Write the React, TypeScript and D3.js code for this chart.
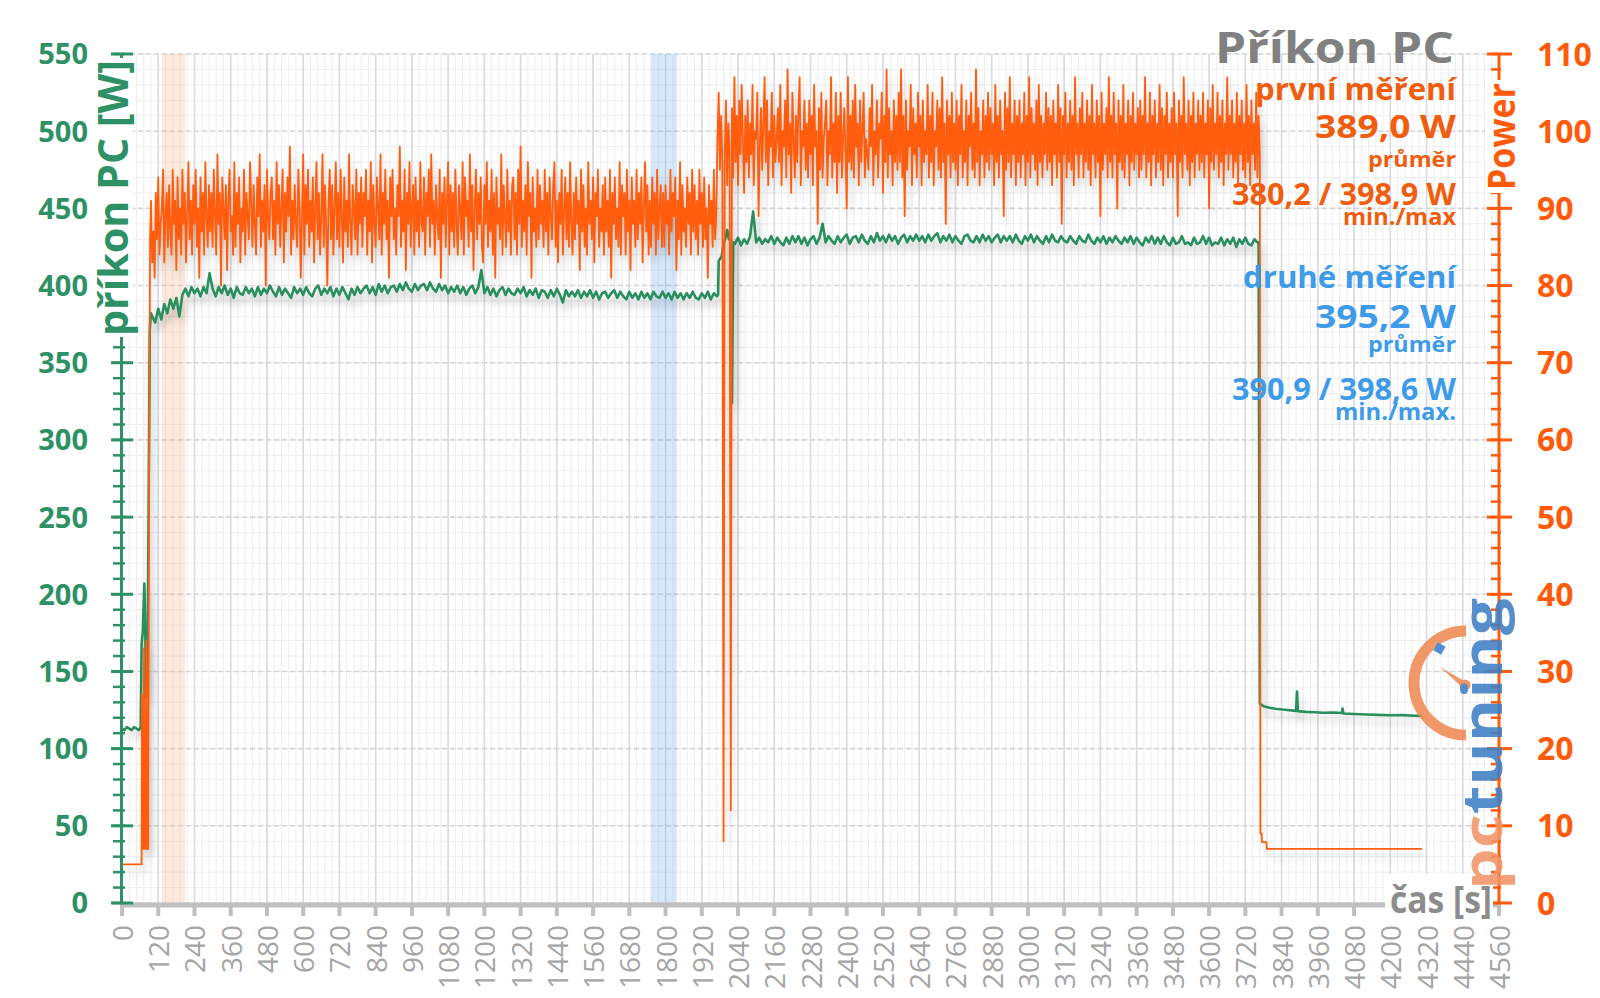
import React from 'react';
import * as d3 from 'd3';

// ---------- data ----------
const X_TICKS = d3.range(0, 4561, 120);
const LEFT_TICKS = [0, 50, 100, 150, 200, 250, 300, 350, 400, 450, 500, 550];
const RIGHT_TICKS = [0, 10, 20, 30, 40, 50, 60, 70, 80, 90, 100, 110];

const BAND_ORANGE: [number, number] = [132, 209];
const BAND_BLUE: [number, number] = [1752, 1838];

// orange series ("Power", right axis)
const ORANGE_START: [number, number][] = [[0,5],[65,5],[66,27],[68,7],[71,7],[73,33],[76,7],[79,7],[81,34],[84,7],[87,7],[90,60],[93,86]];
const ORANGE_STEP = 4;
const ORANGE_P1_T0 = 96;
const ORANGE_P1 = [
91,83,87,81,92,86,94,84,88,90,95,83,89,92,85,93,87,84,95,88,91,82,94,86,90,
84,95,88,92,83,89,96,86,91,84,93,88,95,85,90,81,94,87,92,84,96,89,85,93,87,
92,85,95,89,84,97,88,92,80,94,90,86,93,82,91,95,87,89,84,96,85,92,88,94,83,
90,87,95,84,92,89,86,96,91,85,93,88,84,94,89,97,85,91,87,93,80,95,89,86,92,
94,86,91,84,96,88,93,85,90,95,83,92,87,94,89,98,84,91,86,93,88,85,95,90,81,
89,97,84,93,88,95,85,91,87,94,83,90,96,86,92,84,89,97,85,93,88,80,91,95,86,
93,84,90,96,86,92,85,95,89,83,94,87,91,85,97,88,84,93,90,86,95,84,92,88,94,
85,92,89,95,84,91,87,96,83,93,88,85,94,90,86,97,84,92,88,95,86,91,81,94,89,
95,86,90,84,93,89,98,85,91,87,95,82,92,88,96,85,90,93,84,94,87,91,85,96,88,
87,94,84,92,89,95,85,97,88,91,84,93,89,86,95,81,92,88,94,85,91,96,84,93,87,
92,85,95,88,84,93,90,86,96,84,94,89,91,85,97,87,93,82,90,95,86,92,88,94,85,
83,93,88,96,85,91,87,95,84,92,81,94,88,90,86,97,84,93,89,85,95,87,91,84,93,
94,86,92,84,95,88,98,85,91,87,93,84,96,89,92,81,94,87,90,85,95,86,93,88,91,
85,95,87,92,84,94,89,86,93,96,85,91,83,92,88,95,84,90,94,86,92,85,96,88,84,
92,86,94,88,91,82,95,87,93,85,90,84,96,88,91,86,94,83,92,89,95,85,90,87,93,
84,94,87,91,85,95,81,92,88,94,86,90,85,96,84,93,89,92,84,95,87,91,82,94,88,
91,85,95,86,92,88,94,83,90,96,87,93,84,91,85,94,88,92,84,95,86,90,93,85,92,
85,93,88,91,84,95,87,92,89,94,82,91,86,96,84,93,87,90,85,94,88,92,84,95,87,
93,86,91,84,95,88,92,85,94,86,90,81,93,88,91,85,95,86,89
];
const ORANGE_P2_T0 = 1972;
const ORANGE_P2 = [
99,105,95,102,96,8,97,104,93,101,98,12,103,94,107,96,102,93,104,97,106,99,92,102,96,
104,94,101,97,106,93,100,99,105,89,98,103,95,101,107,96,104,93,100,98,105,94,102,96,99,
103,96,106,93,100,98,104,94,108,97,101,92,105,99,94,102,96,103,107,93,100,98,104,95,101,
94,104,97,102,93,106,98,100,88,103,95,105,94,99,101,104,93,100,97,107,94,101,96,105,92,
102,96,105,94,99,103,97,90,107,96,102,95,104,94,106,98,101,93,104,96,100,105,94,99,97,
95,103,98,106,93,100,97,104,94,101,99,105,92,102,96,108,94,103,97,100,93,104,96,102,95,
105,96,108,94,102,89,104,95,100,98,106,93,103,97,101,94,105,98,102,93,104,96,100,97,106,
94,102,96,105,93,100,98,104,95,103,94,107,96,101,88,104,97,102,94,105,96,101,95,104,93,
102,97,106,94,100,96,104,93,102,98,105,95,101,94,108,96,103,93,100,97,104,94,102,96,105,
95,103,97,101,93,106,96,102,94,104,97,100,89,105,95,103,96,107,94,101,97,104,93,102,96,
104,94,101,97,105,93,102,96,107,94,103,97,101,95,104,93,106,96,102,94,101,97,105,95,103,
96,102,93,104,97,101,94,106,96,103,88,102,97,105,94,101,96,104,95,102,93,107,97,101,94,
103,97,105,94,101,96,104,95,102,93,106,97,101,94,104,96,102,89,105,95,101,97,103,94,107,
96,102,94,105,97,101,90,104,96,102,95,106,94,101,97,104,93,102,96,105,95,101,97,103,94,
104,95,102,97,107,94,101,96,105,93,102,97,104,94,101,96,106,95,103,93,102,97,105,94,101,
96,103,94,105,97,101,89,104,96,102,94,107,97,101,95,104,93,102,96,105,94,101,97,104,95,
102,96,105,94,101,97,104,90,103,96,106,95,101,97,105,94,102,96,104,93,101,97,107,95,102,
97,104,94,101,96,105,93,102,97,104,95,101,94,106,96,102,93,104,97,101,95,105,94,102,97
];
const ORANGE_END: [number, number][] = [[3770,9],[3774,9],[3775,7.9],[3790,7.9],[3791,7],[4305,7]];

// green series (příkon PC [W], left axis)
const GREEN_START: [number, number][] = [[0,113],[8,112],[16,114],[24,113],[32,112],[40,114],[48,113],[56,112],[62,114],[65,168],[69,176],[74,207],[77,178],[80,133],[84,138],[88,250],[92,372],[96,382]];
const GREEN_STEP = 10;
const GREEN_P1_T0 = 100;
const GREEN_P1 = [
380,376,385,378,388,382,391,385,392,380,
394,398,393,399,395,398,393,399,395,408,
398,393,399,395,400,394,398,392,399,395,
394,399,395,398,393,399,394,398,395,400,
396,393,399,394,398,395,392,399,395,398,
394,399,395,393,398,400,394,398,395,399,
393,398,394,399,395,391,398,394,399,395,
398,400,395,399,394,401,396,400,395,399,
400,396,401,397,402,398,396,401,397,400,
401,397,402,398,396,401,397,400,395,399,
396,400,395,399,394,398,400,395,399,410,
395,399,394,398,393,397,399,394,398,395,
394,398,395,399,393,397,394,398,392,397,
396,392,397,393,398,394,389,397,393,396,
393,397,392,396,393,397,392,396,391,395,
396,392,395,397,392,396,393,391,396,392,
395,391,396,392,395,391,396,393,392,396,
392,395,391,396,392,395,391,395,392,396,
392,391,395,392,396,391,395,393
];
const GREEN_TRANS: [number, number][] = [[1974,394],[1976,416],[1986,419],[1992,427],[2000,432],[2004,436],[2010,430],[2016,429],[2020,324],[2024,428]];
const GREEN_P2_T0 = 2030;
const GREEN_P2 = [
427,431,426,430,427,432,448,428,431,427,430,428,432,427,431,428,426,431,427,432,
428,432,427,431,426,430,432,427,431,440,
428,432,429,427,432,428,431,433,427,431,
432,428,433,429,427,432,428,434,429,432,
428,433,429,432,427,431,433,428,432,429,
433,429,432,428,433,429,432,434,428,432,
429,433,428,432,429,427,432,433,429,428,
432,428,433,429,432,428,431,433,428,432,
429,432,428,433,429,427,432,429,433,428,
432,429,427,432,428,433,429,428,432,429,
428,432,429,427,432,429,428,433,429,427,
431,428,432,427,431,428,432,429,427,431,
428,432,427,431,428,426,431,428,432,427,
431,427,432,428,426,431,427,428,432,427,
428,426,431,427,428,432,427,431,426,428,
427,431,426,430,427,431,425,430,427,431,
427,426,430,428
];
const GREEN_END: [number, number][] = [[3764,428],[3768,129],[3780,127.5],[3800,126.5],[3820,125.8],[3850,125.2],[3880,124.6],[3888,124.4],[3891,137],[3894,124.3],[3920,123.8],[3950,123.6],[3980,123.2],[4010,123.4],[4040,123.1],[4042,126],[4045,122.8],[4080,122.4],[4120,122.1],[4160,121.9],[4200,121.6],[4240,121.7],[4280,121.3],[4305,121.2]];

// ---------- layout ----------
const X0 = 122, X1 = 1499, Y0 = 903, Y1 = 54;
const x = d3.scaleLinear().domain([0, 4560]).range([X0, X1]);
const yL = d3.scaleLinear().domain([0, 550]).range([Y0, Y1]);
const yR = d3.scaleLinear().domain([0, 110]).range([Y0, Y1]);

const C_ORANGE = '#ff5b0b';
const C_ORANGE_T = '#f05d0e';
const C_GREEN = '#2a8f5e';
const C_GREEN_T = '#2e9166';
const C_BLUE = '#3d9be9';
const C_GRAY = '#808080';
const FONT = '"Open Sans", "DejaVu Sans", sans-serif';

const orangeData: [number, number][] = [
  ...ORANGE_START,
  ...ORANGE_P1.map((v, i) => [ORANGE_P1_T0 + i * ORANGE_STEP, v] as [number, number]),
  ...ORANGE_P2.map((v, i) => [ORANGE_P2_T0 + i * ORANGE_STEP, v] as [number, number]),
  ...ORANGE_END,
];
const greenData: [number, number][] = [
  ...GREEN_START,
  ...GREEN_P1.map((v, i) => [GREEN_P1_T0 + i * GREEN_STEP, v] as [number, number]),
  ...GREEN_TRANS,
  ...GREEN_P2.map((v, i) => [GREEN_P2_T0 + i * GREEN_STEP, v] as [number, number]),
  ...GREEN_END,
];

const orangeLine = d3.line<[number, number]>().x(d => x(d[0])).y(d => yR(d[1]));
const greenLine = d3.line<[number, number]>().x(d => x(d[0])).y(d => yL(d[1]));

export default function App() {
  const minorX = d3.range(0, 4561, 24);
  const minorY = d3.range(0, 551, 10);
  const rightMinor = d3.range(0, 111, 2);

  const legend: { t: string; y: number; fs: number; len: number; c: string }[] = [
    { t: 'první měření', y: 100, fs: 30, len: 201, c: C_ORANGE_T },
    { t: '389,0 W', y: 138, fs: 33, len: 141, c: C_ORANGE_T },
    { t: 'průměr', y: 167, fs: 22, len: 88, c: C_ORANGE_T },
    { t: '380,2 / 398,9 W', y: 205, fs: 30, len: 224, c: C_ORANGE_T },
    { t: 'min./max', y: 225, fs: 23, len: 113, c: C_ORANGE_T },
    { t: 'druhé měření', y: 288, fs: 30, len: 213, c: C_BLUE },
    { t: '395,2 W', y: 328, fs: 33, len: 141, c: C_BLUE },
    { t: 'průměr', y: 352, fs: 22, len: 88, c: C_BLUE },
    { t: '390,9 / 398,6 W', y: 400, fs: 30, len: 224, c: C_BLUE },
    { t: 'min./max.', y: 420, fs: 23, len: 121, c: C_BLUE },
  ];

  return (
    <svg width={1600} height={998} style={{ position: 'absolute', left: 0, top: 0, background: '#fff' }} fontFamily={FONT}>
      <defs>
        <filter id="shadow" x="-5%" y="-10%" width="110%" height="130%">
          <feGaussianBlur in="SourceAlpha" stdDeviation="4" />
          <feOffset dx="3" dy="7" result="b" />
          <feComponentTransfer>
            <feFuncA type="linear" slope="0.22" />
          </feComponentTransfer>
          <feMerge>
            <feMergeNode />
            <feMergeNode in="SourceGraphic" />
          </feMerge>
        </filter>
        <clipPath id="plot">
          <rect x={X0} y={Y1 - 2} width={X1 - X0} height={Y0 - Y1 + 2} />
        </clipPath>
      </defs>
      <rect x={0} y={0} width={1600} height={998} fill="#fff" />

      {/* minor grid */}
      <g stroke="#eeeeee" strokeWidth={1}>
        {minorX.map(t => <line key={'mx' + t} x1={x(t)} x2={x(t)} y1={Y1} y2={Y0} />)}
        {minorY.map(v => <line key={'my' + v} x1={X0} x2={X1} y1={yL(v)} y2={yL(v)} />)}
      </g>
      {/* major grid */}
      <g>
        {X_TICKS.map(t => <line key={'gx' + t} x1={x(t)} x2={x(t)} y1={Y1} y2={Y0} stroke="#d9dae2" strokeWidth={1.6} />)}
        {LEFT_TICKS.map(v => <line key={'gy' + v} x1={X0} x2={X1} y1={yL(v)} y2={yL(v)} stroke="#d6d6d6" strokeWidth={1.6} strokeDasharray="5,3" />)}
      </g>

      {/* bands */}
      <rect x={x(BAND_ORANGE[0])} y={Y1} width={x(BAND_ORANGE[1]) - x(BAND_ORANGE[0])} height={Y0 - Y1} fill="rgba(250,180,130,0.28)" />
      <rect x={x(BAND_BLUE[0])} y={Y1} width={x(BAND_BLUE[1]) - x(BAND_BLUE[0])} height={Y0 - Y1} fill="rgba(120,180,240,0.30)" />

      {/* data */}
      <g clipPath="url(#plot)">
        <g filter="url(#shadow)">
          <path d={greenLine(greenData) || ''} fill="none" stroke={C_GREEN} strokeWidth={2.6} strokeLinejoin="round" />
        </g>
        <g filter="url(#shadow)">
          <path d={orangeLine(orangeData) || ''} fill="none" stroke={C_ORANGE} strokeWidth={1.8} strokeLinejoin="round" />
        </g>
      </g>

      {/* x axis */}
      <line x1={X0 - 2} x2={X1 + 2} y1={905} y2={905} stroke="#bfbfbf" strokeWidth={5} />
      {X_TICKS.map(t => (
        <g key={'xt' + t}>
          <line x1={x(t)} x2={x(t)} y1={905} y2={916} stroke="#bfbfbf" strokeWidth={4} />
          <text transform={`translate(${x(t)},925) rotate(-90)`} textAnchor="end" dominantBaseline="central" fontSize={28} fill="#a5a5a5">{t}</text>
        </g>
      ))}

      {/* left axis */}
      <line x1={121.5} x2={121.5} y1={Y1} y2={Y0} stroke={C_GREEN_T} strokeWidth={3} />
      {minorY.map(v => <line key={'lm' + v} x1={113} x2={125} y1={yL(v)} y2={yL(v)} stroke={C_GREEN_T} strokeWidth={2.5} />)}
      {LEFT_TICKS.map(v => (
        <g key={'lt' + v}>
          <line x1={111} x2={133} y1={yL(v)} y2={yL(v)} stroke={C_GREEN_T} strokeWidth={3} />
          <text x={88} y={yL(v)} dy="0.36em" textAnchor="end" fontSize={29} fontWeight={700} fill={C_GREEN_T}>{v}</text>
        </g>
      ))}
      <rect x={96} y={58} width={37} height={279} fill="#fff" />
      <text transform="translate(128,60) rotate(-90)" textAnchor="end" fontSize={41} fontWeight={700} fill={C_GREEN_T} textLength={276} lengthAdjust="spacingAndGlyphs">příkon PC [W]</text>

      {/* right axis */}
      <line x1={X1} x2={X1} y1={Y1} y2={Y0} stroke={C_ORANGE} strokeWidth={3} />
      {rightMinor.map(v => <line key={'rm' + v} x1={1491} x2={1501} y1={yR(v)} y2={yR(v)} stroke={C_ORANGE} strokeWidth={2.5} />)}
      {RIGHT_TICKS.map(v => (
        <g key={'rt' + v}>
          <line x1={1487} x2={1512} y1={yR(v)} y2={yR(v)} stroke={C_ORANGE} strokeWidth={3} />
          <text x={1537} y={yR(v)} dy="0.36em" textAnchor="start" fontSize={32} fontWeight={700} fill={C_ORANGE}>{v}</text>
        </g>
      ))}
      <rect x={1485} y={80} width={33} height={113} fill="#fff" />
      <text transform="translate(1515,83) rotate(-90)" textAnchor="end" fontSize={38} fontWeight={700} fill={C_ORANGE} textLength={107} lengthAdjust="spacingAndGlyphs">Power</text>

      {/* x axis title */}
      <rect x={1385} y={874} width={108} height={48} fill="#fff" />
      <text x={1492} y={913} textAnchor="end" fontSize={37} fontWeight={700} fill="#8c8c8c" textLength={102} lengthAdjust="spacingAndGlyphs">čas [s]</text>

      {/* logo */}
      <g opacity={0.88}>
        <path d="M 1466 631 A 52 52 0 0 0 1466 735" fill="none" stroke="#f08a55" strokeWidth={11} />
        <path d="M 1440 667 L 1466 682 L 1463 688 Z" fill="#f08a55" />
        <circle cx={1465} cy={685} r={5.5} fill="#f08a55" />
        <rect x={1435} y={644} width={9} height={9} fill="#3a80d0" transform="rotate(30,1439.5,648.5)" />
        <text transform="translate(1502,890) rotate(-90)" fontSize={56} fontWeight={700} textLength={292} lengthAdjust="spacingAndGlyphs">
          <tspan fill="#f29568">pc</tspan><tspan fill="#3f7fc6">tuning</tspan>
        </text>
      </g>

      {/* title and legend */}
      <text x={1454} y={63} textAnchor="end" fontSize={43} fontWeight={700} fill={C_GRAY} textLength={239} lengthAdjust="spacingAndGlyphs">Příkon PC</text>
      {legend.map((l, i) => (
        <text key={'lg' + i} x={1456} y={l.y} textAnchor="end" fontSize={l.fs} fontWeight={700} fill={l.c} textLength={l.len} lengthAdjust="spacingAndGlyphs">{l.t}</text>
      ))}
    </svg>
  );
}
